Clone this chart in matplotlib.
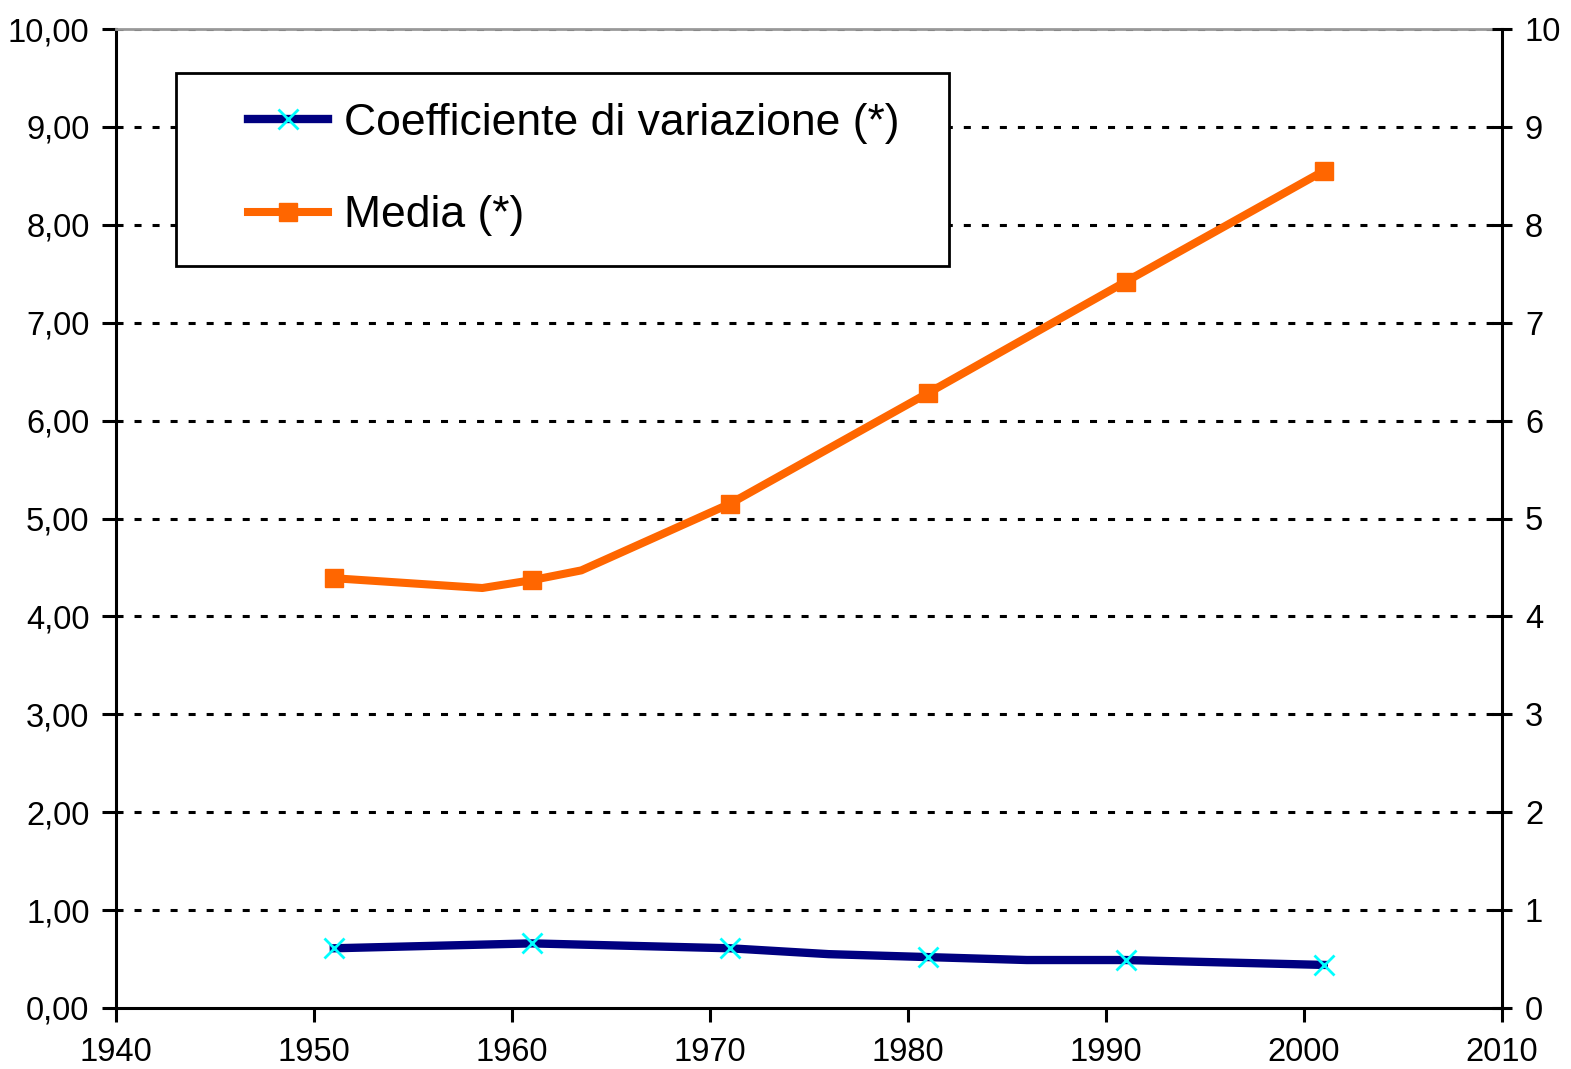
import matplotlib
matplotlib.use("Agg")
import matplotlib.pyplot as plt
from matplotlib.ticker import FuncFormatter, MultipleLocator
from matplotlib.patches import Rectangle

# ---- data ----
cv_years = [1951, 1961, 1971, 1976, 1981, 1986, 1991, 2001]
cv_values = [0.61, 0.66, 0.61, 0.55, 0.52, 0.49, 0.49, 0.44]
cv_marked = [True, True, True, False, True, False, True, True]

media_years = [1951, 1958.5, 1961, 1963.5, 1971, 1981, 1991, 2001]
media_values = [4.39, 4.29, 4.37, 4.47, 5.15, 6.28, 7.42, 8.55]
media_marked = [True, False, True, False, True, True, True, True]

labels = ["Coefficiente di variazione (*)", "Media (*)"]
x_ticks = [1940, 1950, 1960, 1970, 1980, 1990, 2000, 2010]

plt.rcParams['font.family'] = ['Liberation Sans', 'DejaVu Sans']

W, H = 1571, 1069
fig = plt.figure(figsize=(W / 100, H / 100), dpi=100)
ax = fig.add_axes([116/W, 1-1008/H, (1502-116)/W, (1008-29)/H])

mk_cv = [i for i, m in enumerate(cv_marked) if m]
mk_me = [i for i, m in enumerate(media_marked) if m]

ax.plot(cv_years, cv_values, color='#000080', lw=6, marker='x', markevery=mk_cv,
        markersize=14, markeredgecolor='#00FFFF', markeredgewidth=2,
        label=labels[0], zorder=3)
ax.plot(media_years, media_values, color='#FF6600', lw=5.8, marker='s', markevery=mk_me,
        markersize=12.5, markeredgecolor='#FF6600', markerfacecolor='#FF6600',
        label=labels[1], zorder=3)

ax.set_xlim(1940, 2010)
ax.set_ylim(0, 10)
ax.set_xticks(x_ticks)
ax.yaxis.set_major_locator(MultipleLocator(1))
ax.yaxis.set_major_formatter(FuncFormatter(lambda v, p: f"{v:.2f}".replace('.', ',')))

for yv in range(1, 11):
    ax.axhline(yv, color='black', lw=2.2, dashes=(2.3, 3.6), zorder=1)

for s in ['left', 'bottom']:
    ax.spines[s].set_linewidth(2.2)
    ax.spines[s].set_color('black')
ax.spines['top'].set_color('#999999')
ax.spines['top'].set_linewidth(2)
ax.spines['right'].set_visible(False)

ax.tick_params(axis='both', labelsize=23.5, width=2.2, length=10, direction='out', colors='black')
ax.tick_params(axis='y', pad=9)
ax.tick_params(axis='x', pad=11)

ax2 = ax.twinx()
ax2.set_ylim(0, 10)
ax2.yaxis.set_major_locator(MultipleLocator(1))
ax2.yaxis.set_major_formatter(FuncFormatter(lambda v, p: f"{int(round(v))}"))
ax2.tick_params(axis='y', labelsize=23.5, width=2.2, length=15, direction='inout', pad=9)
for s in ['left', 'bottom', 'top']:
    ax2.spines[s].set_visible(False)
ax2.spines['right'].set_linewidth(2.2)

# legend frame
box = Rectangle((176/W, 1-266/H), (949-176)/W, (266-73)/H, transform=fig.transFigure,
                facecolor='white', edgecolor='black', lw=2, zorder=4)
ax2.add_artist(box)

leg = ax2.legend(*ax.get_legend_handles_labels(), loc='upper left',
                 bbox_to_anchor=(248/W, 1-103/H), bbox_transform=fig.transFigure,
                 fontsize=32, frameon=False, handlelength=1.8, handletextpad=0.35,
                 borderpad=0, labelspacing=1.15, borderaxespad=0)
leg.set_zorder(5)

fig.savefig("out.png", dpi=100)
